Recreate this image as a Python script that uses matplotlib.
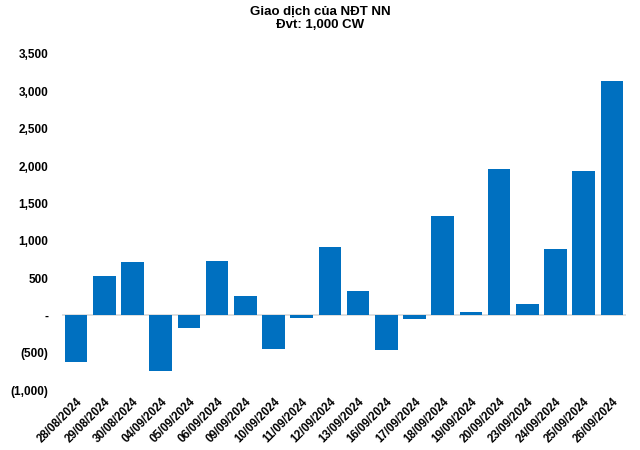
import matplotlib
matplotlib.use("Agg")
import matplotlib.pyplot as plt
from matplotlib.ticker import FuncFormatter

dates = ["28/08/2024", "29/08/2024", "30/08/2024", "04/09/2024", "05/09/2024",
         "06/09/2024", "09/09/2024", "10/09/2024", "11/09/2024", "12/09/2024",
         "13/09/2024", "16/09/2024", "17/09/2024", "18/09/2024", "19/09/2024",
         "20/09/2024", "23/09/2024", "24/09/2024", "25/09/2024", "26/09/2024"]
values = [-626, 527, 714, -746, -170, 727, 260, -452, -36, 911,
          322, -456, -50, 1336, 40, 1966, 147, 894, 1930, 3137]
yticks = [-1000, -500, 0, 500, 1000, 1500, 2000, 2500, 3000, 3500]

plt.rcParams['font.family'] = ['Liberation Sans', 'DejaVu Sans']
plt.rcParams['font.weight'] = 'bold'


def fmt(v, pos):
    if v == 0:
        return "-"
    if v < 0:
        return f"({-v:,.0f})"
    return f"{v:,.0f}"


fig = plt.figure(figsize=(6.4, 4.5), dpi=100)
ax = fig.add_axes([0.097, 0.133, 0.881, 0.747])
x = range(len(dates))
ax.bar(x, values, width=0.8, color="#0070C0", zorder=2)
ax.axhline(0, color="#D9D9D9", lw=1.2, zorder=1)
ax.set_xlim(-0.5, len(dates) - 0.5)
ax.set_ylim(-1000, 3500)
ax.set_yticks(yticks)
ax.yaxis.set_major_formatter(FuncFormatter(fmt))
ax.set_xticks(list(x))
ax.set_xticklabels(dates, rotation=45, ha="right", rotation_mode="anchor",
                   fontsize=8.3, fontweight="bold")
for lab in ax.get_yticklabels():
    lab.set_fontweight("bold")
ax.tick_params(axis="y", length=0, labelsize=8.5, pad=10)
ax.tick_params(axis="x", length=0, pad=4)
for s in ax.spines.values():
    s.set_visible(False)
fig.suptitle("Giao dịch của NĐT NN\nĐvt: 1,000 CW", fontsize=9.5, fontweight="bold",
             y=0.988, linespacing=1.2)
fig.savefig("out.png", dpi=100)
